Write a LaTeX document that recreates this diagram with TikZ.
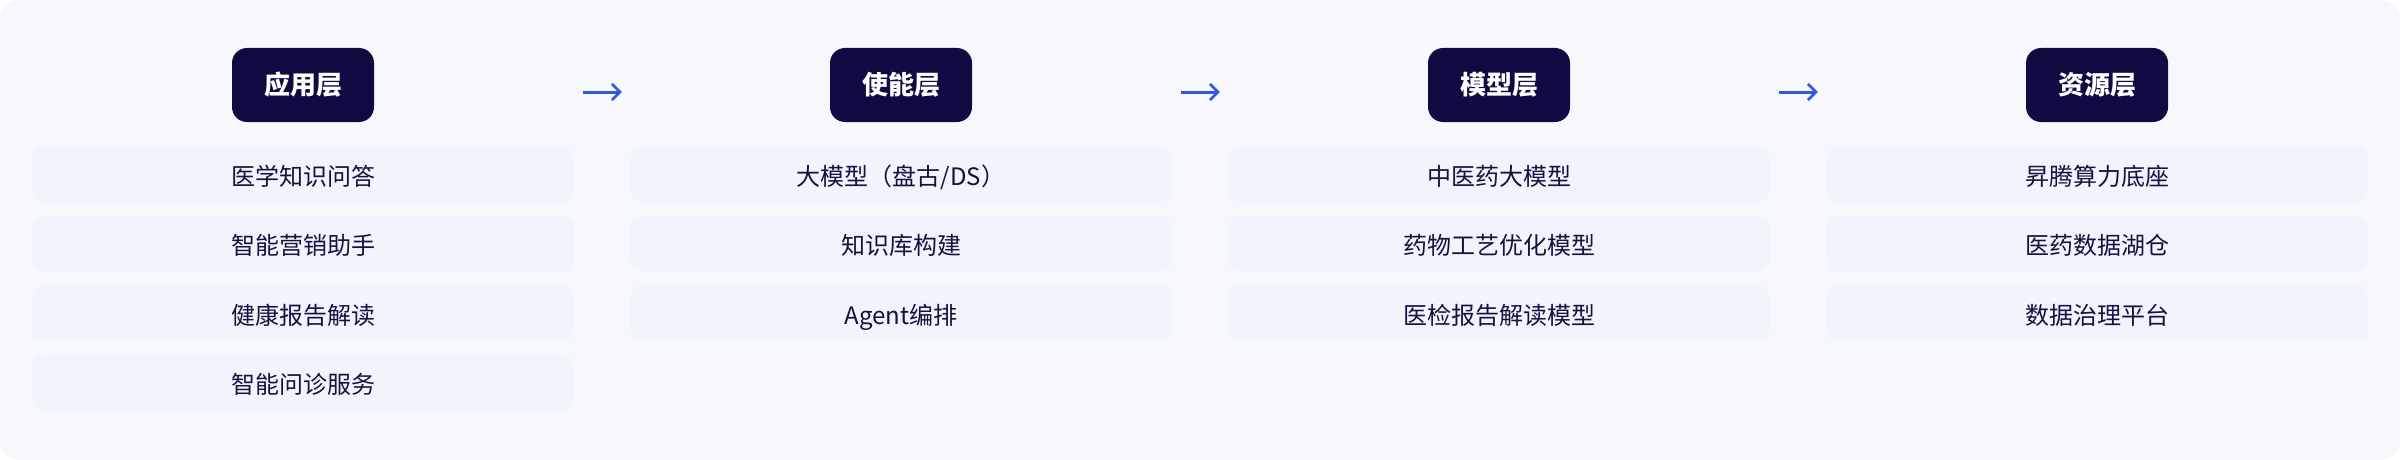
\documentclass[tikz,border=0pt]{standalone}
\usepackage{fontspec}
\setmainfont{Noto Sans CJK SC}
\usetikzlibrary{arrows.meta}
\definecolor{bgc}{HTML}{F7F8FB}
\definecolor{hdrc}{HTML}{0F0A42}
\definecolor{itemc}{HTML}{EFF4FD}
\definecolor{txtc}{HTML}{16123F}
\definecolor{arrc}{HTML}{3356E0}
\tikzset{
  hdr/.style={fill=hdrc, rounded corners=15pt, minimum width=142pt, minimum height=74pt,
    inner sep=0pt, text=white, font=\fontsize{26pt}{30pt}\selectfont\bfseries},
  itembox/.style={fill=itemc, rounded corners=12pt, minimum width=541pt, minimum height=56pt,
    inner sep=0pt, text height=22pt, text depth=0pt, text=txtc, font=\fontsize{24pt}{28pt}\selectfont},
  flow/.style={draw=arrc, line width=3pt, -{Straight Barb[length=8pt,width=16pt,line width=2.6pt]},
    shorten <=209pt, shorten >=208pt}
}
\begin{document}
\begin{tikzpicture}[x=1pt,y=-1pt]
\useasboundingbox (0,0) rectangle (2400,460);
\fill[white] (0,0) rectangle (2400,460);
\fill[bgc, rounded corners=20pt] (0,0) rectangle (2400,460);
% headers
\node[hdr] (h1) at (303,85) {应用层};
\node[hdr] (h2) at (901,85) {使能层};
\node[hdr] (h3) at (1499,85) {模型层};
\node[hdr] (h4) at (2097,85) {资源层};
% column 1
\node[itembox] (a1) at (303,174) {医学知识问答};
\node[itembox] (a2) at (303,243.5) {智能营销助手};
\node[itembox] (a3) at (303,313) {健康报告解读};
\node[itembox] (a4) at (303,382.5) {智能问诊服务};
% column 2
\node[itembox] (b1) at (901,174) {大模型（盘古/DS）};
\node[itembox] (b2) at (901,243.5) {知识库构建};
\node[itembox] (b3) at (901,313) {Agent编排};
% column 3
\node[itembox] (c1) at (1499,174) {中医药大模型};
\node[itembox] (c2) at (1499,243.5) {药物工艺优化模型};
\node[itembox] (c3) at (1499,313) {医检报告解读模型};
% column 4
\node[itembox] (d1) at (2097,174) {昇腾算力底座};
\node[itembox] (d2) at (2097,243.5) {医药数据湖仓};
\node[itembox] (d3) at (2097,313) {数据治理平台};
% arrows
\draw[flow] ([yshift=-7pt]h1.east) -- ([yshift=-7pt]h2.west);
\draw[flow] ([yshift=-7pt]h2.east) -- ([yshift=-7pt]h3.west);
\draw[flow] ([yshift=-7pt]h3.east) -- ([yshift=-7pt]h4.west);
\end{tikzpicture}
\end{document}
